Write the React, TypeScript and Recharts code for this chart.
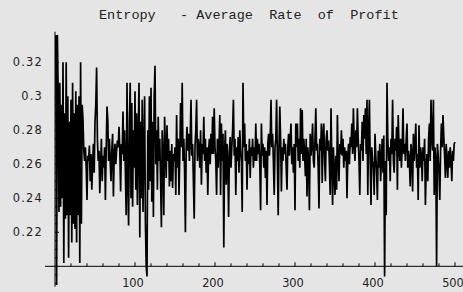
import { LineChart, Line, XAxis, YAxis, ReferenceLine } from "recharts";

// average rate of profit, thousandths, steps 1-500
const rateA = [
  336, 189, 336, 300, 232, 308, 235, 295, 240, 320, 202, 290, 228, 320, 230, 300, 205, 285, 230, 298,
  214, 308, 225, 290, 222, 303, 214, 295, 230, 300, 202, 320, 225, 295, 286, 268, 262, 270, 258, 239,
  265, 262, 271, 250, 266, 245, 260, 272, 255, 285, 295, 317, 275, 262, 268, 243, 260, 275, 250, 265,
  258, 270, 239, 268, 294, 286, 262, 275, 262, 250, 268, 278, 241, 265, 272, 260, 268, 274, 270, 282,
  268, 244, 272, 266, 291, 262, 280, 255, 230, 308, 250, 224, 285, 308, 240, 296, 235, 280, 258, 303,
];
const rateB = [
  245, 290, 236, 275, 308, 217, 285, 240, 298, 232, 270, 300, 226, 200, 194, 280, 245, 300, 250, 305,
  238, 285, 229, 300, 318, 260, 280, 245, 288, 262, 275, 250, 223, 280, 265, 230, 288, 270, 252, 283,
  262, 275, 247, 268, 250, 272, 246, 266, 262, 270, 242, 289, 258, 275, 242, 265, 296, 270, 308, 262,
  275, 255, 220, 270, 282, 268, 278, 262, 275, 298, 265, 272, 250, 228, 270, 280, 298, 262, 275, 270,
  258, 280, 248, 272, 266, 288, 262, 275, 255, 270, 242, 268, 275, 260, 278, 266, 288, 266, 293, 270,
];
const rateC = [
  262, 242, 275, 258, 270, 289, 242, 284, 262, 278, 211, 268, 280, 248, 272, 262, 229, 268, 276, 258,
  270, 280, 298, 265, 275, 242, 270, 262, 276, 255, 280, 268, 262, 232, 308, 270, 284, 262, 272, 245,
  268, 260, 275, 252, 270, 265, 275, 258, 270, 262, 284, 262, 275, 266, 272, 260, 233, 284, 265, 272,
  258, 270, 252, 268, 236, 272, 278, 265, 275, 298, 270, 278, 262, 242, 270, 275, 298, 262, 230, 270,
  294, 275, 244, 270, 262, 275, 266, 272, 258, 245, 270, 278, 265, 275, 284, 260, 270, 255, 272, 233,
];
const rateD = [
  284, 270, 284, 262, 275, 258, 293, 266, 292, 262, 275, 266, 253, 275, 241, 270, 262, 233, 278, 265,
  272, 284, 262, 258, 275, 293, 268, 272, 258, 234, 275, 268, 284, 249, 278, 284, 262, 250, 275, 280,
  268, 274, 260, 242, 293, 262, 236, 270, 255, 242, 265, 245, 289, 262, 250, 272, 266, 280, 265, 275,
  258, 270, 262, 268, 240, 265, 272, 260, 276, 270, 284, 266, 293, 272, 262, 280, 270, 293, 275, 262,
  242, 272, 268, 285, 262, 289, 275, 293, 266, 298, 242, 280, 298, 262, 236, 270, 262, 258, 242, 278,
];
const rateE = [
  265, 255, 239, 268, 258, 272, 250, 262, 275, 255, 277, 194, 262, 230, 308, 275, 262, 270, 250, 275,
  266, 298, 262, 255, 275, 268, 282, 245, 289, 270, 262, 275, 258, 270, 293, 266, 272, 262, 275, 284,
  258, 268, 262, 247, 272, 266, 244, 278, 262, 272, 284, 258, 266, 239, 283, 258, 270, 265, 250, 270,
  262, 275, 236, 258, 266, 250, 275, 284, 262, 298, 275, 268, 298, 242, 270, 262, 200, 272, 265, 255,
  239, 268, 284, 270, 289, 276, 265, 252, 272, 262, 252, 268, 258, 270, 262, 250, 268, 262, 272, 273,
];

const xTicks = [100, 200, 300, 400, 500];
const xMinorTicks = [
  20, 40, 60, 80, 120, 140, 160, 180, 220, 240, 260, 280, 320, 340, 360, 380, 420, 440, 460, 480,
];
const yTicks = [0.22, 0.24, 0.26, 0.28, 0.3, 0.32];
const yMinorTicks = [
  0.19, 0.195, 0.205, 0.21, 0.215, 0.225, 0.23, 0.235, 0.245, 0.25, 0.255, 0.265, 0.27, 0.275,
  0.285, 0.29, 0.295, 0.305, 0.31, 0.315, 0.325, 0.33, 0.335,
];

const data = [...rateA, ...rateB, ...rateC, ...rateD, ...rateE].map((v, k) => ({
  step: k + 1,
  rate: v / 1000,
}));

const W = 463;
const H = 292;
// one pixel in data units
const PX_X = 1.25;
const PX_Y = 1 / 1700;

const labelFont = { fontFamily: "DejaVu Sans", fontSize: 11.4, fill: "#222" };

const XLabel = ({ viewBox, text }: any) => (
  <text x={viewBox.x - 2} y={viewBox.y + viewBox.height + 21} textAnchor="middle" {...labelFont}>
    {text}
  </text>
);

const YLabel = ({ viewBox, text }: any) => (
  <text x={viewBox.x - 12} y={viewBox.y + 4} textAnchor="end" letterSpacing={1.2} {...labelFont}>
    {text}
  </text>
);

export default function App() {
  return (
    <div style={{ position: "fixed", left: 0, top: 0, width: W, height: H, background: "#e5e5e5" }}>
      <LineChart width={W} height={H} data={data} margin={{ top: 0, right: 0, bottom: 0, left: 0 }}>
        <XAxis dataKey="step" type="number" domain={[-68.75, 510]} hide />
        <YAxis type="number" domain={[0.184882, 0.356647]} hide />
        <ReferenceLine
          segment={[{ x: -12.5, y: 0.2 }, { x: 510, y: 0.2 }]}
          stroke="#000"
          strokeWidth={1}
        />
        <ReferenceLine
          segment={[{ x: 0, y: 0.188 }, { x: 0, y: 0.338 }]}
          stroke="#000"
          strokeWidth={1}
        />
        {xTicks.map((t) => (
          <ReferenceLine
            key={`xt${t}`}
            segment={[{ x: t, y: 0.2 }, { x: t, y: 0.2 + 4 * PX_Y }]}
            stroke="#000"
            label={<XLabel text={String(t)} />}
          />
        ))}
        {xMinorTicks.map((t) => (
          <ReferenceLine
            key={`xm${t}`}
            segment={[{ x: t, y: 0.2 }, { x: t, y: 0.2 + 3 * PX_Y }]}
            stroke="#000"
          />
        ))}
        {yTicks.map((t) => (
          <ReferenceLine
            key={`yt${t}`}
            segment={[{ x: 0, y: t }, { x: 4 * PX_X, y: t }]}
            stroke="#000"
            label={<YLabel text={String(t)} />}
          />
        ))}
        {yMinorTicks.map((t) => (
          <ReferenceLine
            key={`ym${t}`}
            segment={[{ x: 0, y: t }, { x: 2.5 * PX_X, y: t }]}
            stroke="#000"
          />
        ))}
        <Line
          type="linear"
          dataKey="rate"
          stroke="#000"
          strokeWidth={1.7}
          dot={false}
          isAnimationActive={false}
        />
      </LineChart>
      <svg width={W} height={30} style={{ position: "absolute", left: 0, top: 0 }}>
        <text
          x={99}
          y={19.4}
          fontFamily="Liberation Mono"
          fontSize={13.5}
          fill="#222"
          style={{ whiteSpace: "pre" }}
        >
          {"Entropy   - Average  Rate  of  Profit"}
        </text>
      </svg>
    </div>
  );
}
